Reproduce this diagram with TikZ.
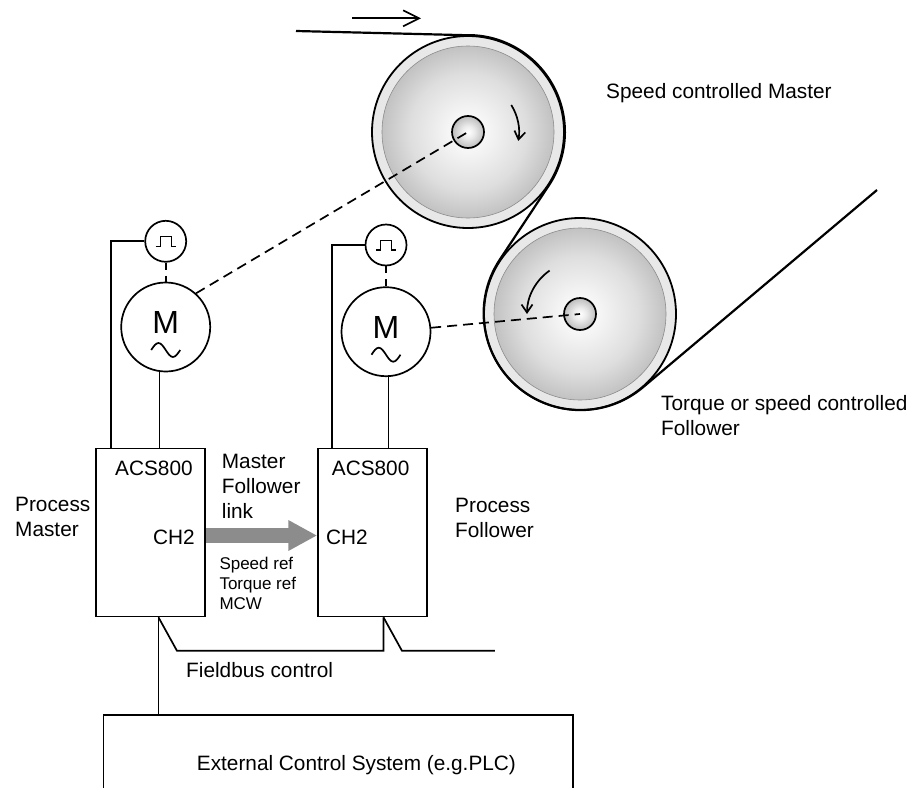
\documentclass[tikz,border=0pt]{standalone}
\usepackage{fontspec}
\setmainfont{Liberation Sans}
\usetikzlibrary{positioning,arrows.meta}
\tikzset{>={Straight Barb[length=8pt,width=11pt]}}
\pgfdeclareradialshading{drumshade}{\pgfpoint{0bp}{0bp}}{color(0bp)=(white);
  color(6bp)=(black!4); color(17bp)=(black!13); color(25bp)=(black!24); color(50bp)=(black!24)}
\pgfdeclareradialshading{hubshade}{\pgfpoint{0bp}{0bp}}{color(0bp)=(white);
  color(10bp)=(black!8); color(25bp)=(black!26); color(50bp)=(black!26)}
\tikzset{
  wire/.style={line width=1.7pt},
  shaft/.style={wire, dash pattern=on 10pt off 6pt},
  drive/.style={draw, line width=1.7pt, minimum width=109pt, minimum height=168pt, inner sep=0},
  motor/.style={circle, draw, line width=1.7pt, minimum size=89pt, inner sep=0,
    text depth=9pt, font=\fontsize{32}{32}\selectfont},
  encoder/.style={circle, draw, line width=1.7pt, minimum size=41pt, inner sep=0},
  rim/.style={circle, draw, line width=1.8pt, fill=black!9, minimum size=192pt, inner sep=0},
  drum/.style={circle, draw=black!45, line width=0.6pt, shade, shading=drumshade,
    minimum size=172pt, inner sep=0},
  hub/.style={circle, draw, line width=1.7pt, shade, shading=hubshade,
    minimum size=32pt, inner sep=0},
  txt/.style={inner sep=0, align=left, anchor=north west},
  small/.style={txt, font=\fontsize{17}{20}\selectfont},
  word/.style={inner sep=0, anchor=base west},
}
% pulse sign of the encoder and ac sign of the motor
\newcommand{\encpulse}[1]{\draw[line width=1.3pt] ([shift={(-10,-5)}]#1.center) -- ++(4.5,0)
  -- ++(0,9.5) -- ++(11,0) -- ++(0,-9.5) -- ++(4.5,0);}
\newcommand{\acwave}[1]{\draw[wire] ([shift={(-14.5,-23)}]#1.center) sin ++(7.25,7)
  cos ++(7.25,-7) sin ++(7.25,-7) cos ++(7.25,7);}

\begin{document}
\begin{tikzpicture}[x=1pt,y=1pt,font=\fontsize{20.8}{25}\selectfont]
  \useasboundingbox (0,0) rectangle (915,-787);

  % Rolls
  \node[rim]  (rollM) at (468,-132) {};
  \node[drum] (drumM) at (rollM) {};
  \node[hub]  (hubM)  at (rollM) {};
  \node[rim]  (rollF) at (580,-314) {};
  \node[drum] (drumF) at (rollF) {};
  \node[hub]  (hubF)  at (rollF) {};
  \draw[wire,->] ([shift={(32:51)}]hubM.center) arc[start angle=32, end angle=-10, radius=51];
  \draw[wire,->] ([shift={(125:53)}]hubF.center) arc[start angle=125, end angle=180, radius=53];

  % Web
  \coordinate (webin)  at (296,-31);
  \coordinate (webout) at (877,-190);
  \coordinate (feed)   at (352,-18.3);
  \draw[line width=2.2pt] (webin) -- (rollM.92) arc[start angle=92, end angle=-33.4, radius=96.9]
    -- (rollF.146.6) arc[start angle=146.6, end angle=310.2, radius=96.9] -- (webout);
  \draw[wire,-{Straight Barb[length=16pt,width=16pt]}] (feed) -- ++(69,0);

  % Drives and motors
  \node[drive] (driveM) at (150.5,-532.5) {};
  \node[drive] (driveF) at (372.5,-532.5) {};
  \node[motor] (motorM) at (165.7,-327) {M};
  \node[motor] (motorF) at (386,-331.7) {M};
  \node[encoder, above=19pt of motorM] (encM) {};
  \node[encoder, above=20pt of motorF] (encF) {};
  \acwave{motorM}
  \acwave{motorF}
  \encpulse{encM}
  \encpulse{encF}

  % Wiring
  \draw[wire] (encM.west) -| ([xshift=16pt]driveM.north west);
  \draw[wire] (encF.west) -| ([xshift=15pt]driveF.north west);
  \draw[wire] (motorM.-98) -- (motorM.-98 |- driveM.north);
  \draw[wire] (motorF.-87) -- (motorF.-87 |- driveF.north);
  \draw[wire, dash pattern=on 7pt off 6pt] (encM) -- (motorM);
  \draw[wire, dash pattern=on 7pt off 6pt] (encF) -- (motorF);
  \draw[shaft] (motorM.48) -- (hubM.center);
  \draw[shaft] (motorF.5) -- (hubF.center);

  % Master/follower link
  \draw[line width=15.6pt, black!45, -{Triangle[length=28.7pt,width=28.6pt]}]
    ([yshift=-3pt]driveM.east) -- ([yshift=-3pt]driveF.west);

  % Fieldbus
  \node[draw, line width=1.7pt, minimum width=469.6pt, minimum height=150pt,
    anchor=north west] (plc) at (102.7,-714.3) {};
  \coordinate (busM) at ([xshift=8pt]driveM.south);
  \coordinate (busF) at ([xshift=11pt]driveF.south);
  \draw[wire] (busM) -- (busM |- plc.north);
  \draw[wire] (busM) -- ++(18.4,-33.3) -| (busF);
  \draw[wire] (busF) -- ++(18.4,-33.3) -- ++(93,0);

  % Labels
  \node[word] (lblSpeed)  at (606,-98.3) {Speed controlled Master};
  \node[txt]  (lblTorque) at (661,-395.7) {Torque or speed controlled\\Follower};
  \node[txt]  (lblPM)     at (15,-496.7) {Process\\Master};
  \node[txt]  (lblPF)     at (455,-498.3) {Process\\Follower};
  \node[txt]  (lblLink)   at (221.7,-454.3) {Master\\Follower\\link};
  \node[small] (lblRefs)  at (219.3,-557) {Speed ref\\Torque ref\\MCW};
  \node[word] (acsM) at (115,-475.7) {ACS800};
  \node[word] (acsF) at (331.7,-475.7) {ACS800};
  \node[word] (chM)  at (153,-544) {CH2};
  \node[word] (chF)  at (326,-544) {CH2};
  \node[word] (lblBus) at (186,-677.3) {Fieldbus control};
  \node[word] (lblPLC) at (196.7,-770.7) {External Control System (e.g.PLC)};

\end{tikzpicture}
\end{document}
